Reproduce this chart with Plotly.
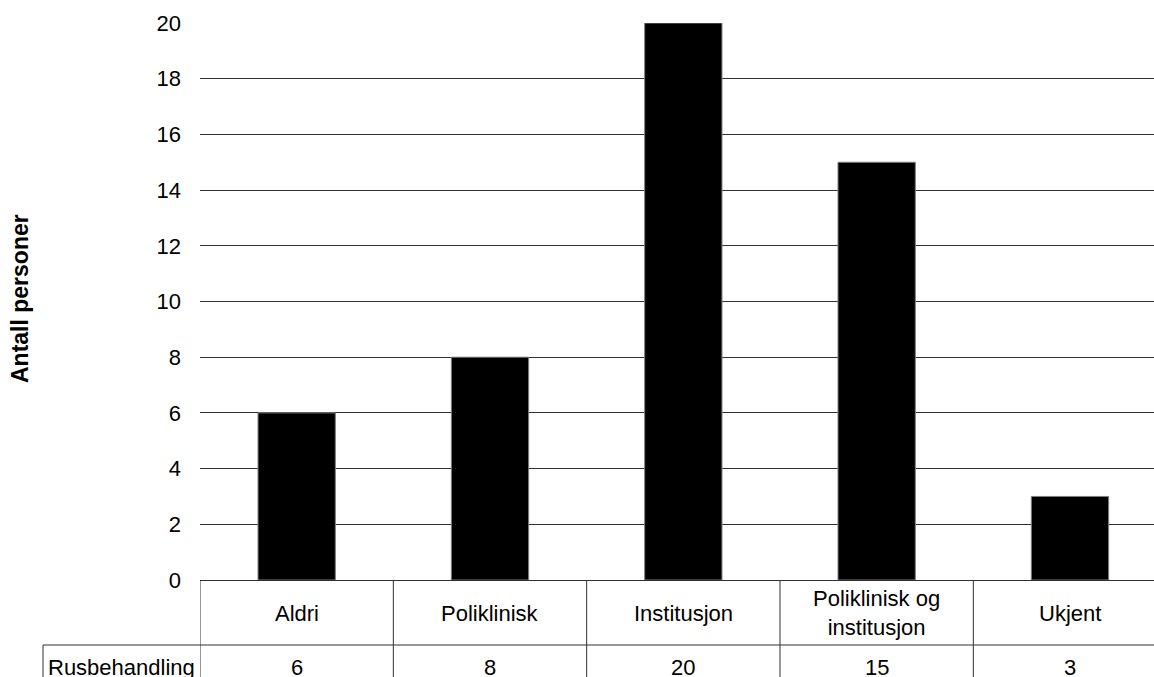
import plotly.graph_objects as go

# Data
categories = ["Aldri", "Poliklinisk", "Institusjon", "Poliklinisk og<br>institusjon", "Ukjent"]
series_name = "Rusbehandling"
values = [6, 8, 20, 15, 3]
y_ticks = [0, 2, 4, 6, 8, 10, 12, 14, 16, 18, 20]

W, H = 1154, 677
ML, MR, MT, MB = 200, 0, 23, 97
plot_w = W - ML - MR
plot_h = H - MT - MB
cat_w = 193.33  # px per category column

FONT = "Liberation Sans, Arial, sans-serif"
FS = 22

x_pos = list(range(len(categories)))
x_max = -0.5 + plot_w / cat_w


def py_to_paper(py):
    return (H - MB - py) / plot_h


fig = go.Figure()
fig.add_trace(go.Bar(
    x=x_pos, y=values, width=0.4,
    marker=dict(color="#000000", line=dict(color="#808080", width=1)),
    showlegend=False, hoverinfo="skip",
))

shapes = []
line_style = dict(color="#303030", width=1)
header_bottom = py_to_paper(645)
table_bottom = py_to_paper(700)

# vertical borders of the data table
for i in range(len(categories)):
    xb = i - 0.5
    shapes.append(dict(type="line", xref="x", yref="paper", x0=xb, x1=xb,
                       y0=0, y1=table_bottom, line=line_style))
# horizontal border between header row and data row
left_paper = (43 - ML) / plot_w
shapes.append(dict(type="line", xref="paper", yref="paper", x0=left_paper, x1=1,
                   y0=header_bottom, y1=header_bottom, line=line_style))
# left border of the row-label cell
shapes.append(dict(type="line", xref="paper", yref="paper", x0=left_paper, x1=left_paper,
                   y0=header_bottom, y1=table_bottom, line=line_style))

annotations = []
for i, (c, v) in enumerate(zip(categories, values)):
    annotations.append(dict(x=i, y=py_to_paper(613), xref="x", yref="paper", text=c,
                            showarrow=False, font=dict(family=FONT, size=FS, color="#000"),
                            xanchor="center", yanchor="middle"))
    annotations.append(dict(x=i, y=py_to_paper(667), xref="x", yref="paper", text=str(v),
                            showarrow=False, font=dict(family=FONT, size=FS, color="#000"),
                            xanchor="center", yanchor="middle"))
annotations.append(dict(x=(121 - ML) / plot_w, y=py_to_paper(667), xref="paper", yref="paper",
                        text=series_name, showarrow=False,
                        font=dict(family=FONT, size=FS, color="#000"),
                        xanchor="center", yanchor="middle"))
annotations.append(dict(x=(20 - ML) / plot_w, y=py_to_paper(299), xref="paper", yref="paper",
                        text="<b>Antall personer</b>", textangle=-90, showarrow=False,
                        font=dict(family=FONT, size=23, color="#000"),
                        xanchor="center", yanchor="middle"))

fig.update_layout(
    width=W, height=H,
    margin=dict(l=ML, r=MR, t=MT, b=MB, pad=0),
    paper_bgcolor="white", plot_bgcolor="white",
    shapes=shapes, annotations=annotations,
    xaxis=dict(range=[-0.5, x_max], showticklabels=False, showgrid=False,
               zeroline=False, showline=False, ticks=""),
    yaxis=dict(range=[0, 20], tickvals=y_ticks, showgrid=True, gridcolor="#303030",
               gridwidth=1, zeroline=True, zerolinecolor="#303030", zerolinewidth=1,
               showline=False, ticks="", ticklabelstandoff=18,
               tickfont=dict(family=FONT, size=FS, color="#000")),
    bargap=0.6,
)

fig.write_html("out.html")
